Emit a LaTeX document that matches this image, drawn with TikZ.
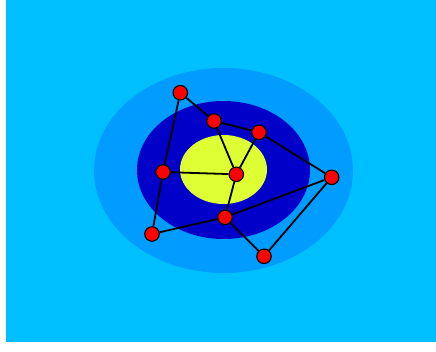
\documentclass[tikz,border=0pt]{standalone}
\begin{document}
\begin{tikzpicture}[x=1pt,y=-1pt,
  vtx/.style={circle,draw=black,fill=red,line width=1.1pt,minimum size=14.5pt,inner sep=0pt},
  edge/.style={draw=black,line width=1.8pt}]
\definecolor{bgblue}{HTML}{00BFFF}
\definecolor{ringblue}{HTML}{009CFF}
\definecolor{darkblue}{HTML}{0000C8}
\definecolor{lemon}{HTML}{DDFF33}
\useasboundingbox (0,0) rectangle (436,351);
\fill[white] (0,0) rectangle (436,351);
\fill[bgblue] (6,0) rectangle (436,342);
\fill[ringblue] (223.5,170.5) ellipse [x radius=129.5, y radius=102.5];
\fill[darkblue] (223.5,170) ellipse [x radius=86.5, y radius=69];
\fill[lemon] (223.5,169.5) ellipse [x radius=43.5, y radius=34.5];
\node[vtx] (a) at (180.3,92.7) {};
\node[vtx] (b) at (214,121) {};
\node[vtx] (c) at (259,132.3) {};
\node[vtx] (d) at (163,172) {};
\node[vtx] (e) at (236.3,174.3) {};
\node[vtx] (f) at (331.7,177.3) {};
\node[vtx] (g) at (225,217.3) {};
\node[vtx] (h) at (152,234) {};
\node[vtx] (i) at (264,256.3) {};
\path[edge] (a) -- (b) (b) -- (c) (c) -- (f) (a) -- (d) (d) -- (h)
  (b) -- (e) (c) -- (e) (d) -- (e) (e) -- (g) (h) -- (g) (g) -- (f)
  (g) -- (i) (i) -- (f);
\end{tikzpicture}
\end{document}
